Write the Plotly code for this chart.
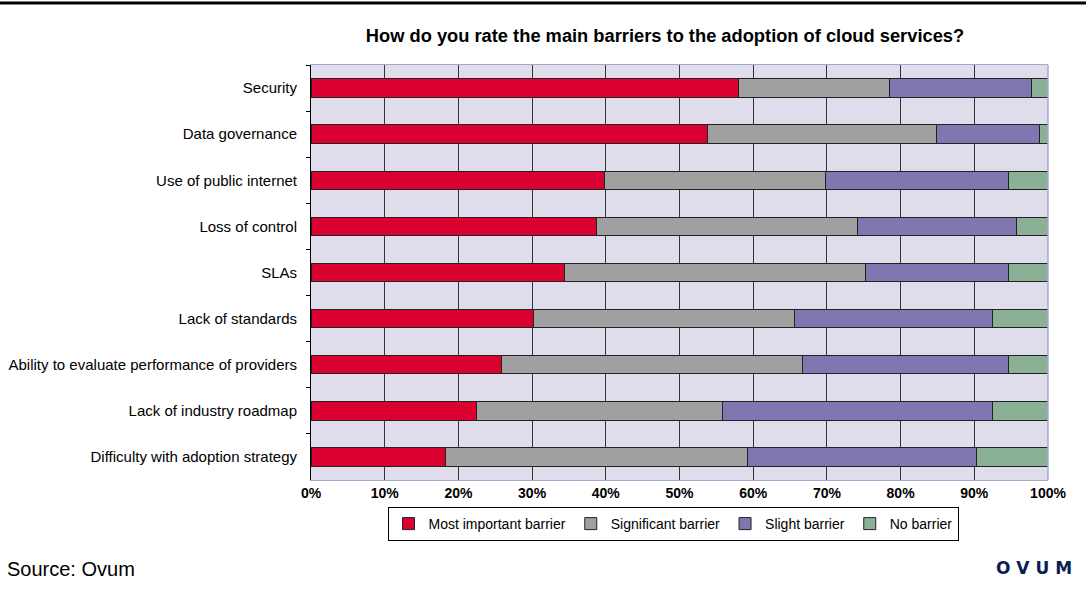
import plotly.graph_objects as go

categories = [
    "Security",
    "Data governance",
    "Use of public internet",
    "Loss of control",
    "SLAs",
    "Lack of standards",
    "Ability to evaluate performance of providers",
    "Lack of industry roadmap",
    "Difficulty with adoption strategy",
]

most_important = [58.0, 53.8, 39.8, 38.7, 34.4, 30.2, 25.9, 22.5, 18.2]
significant = [20.5, 31.1, 30.0, 35.5, 40.9, 35.4, 40.8, 33.4, 41.0]
slight = [19.3, 14.0, 24.9, 21.5, 19.4, 26.9, 28.0, 36.6, 31.1]
no_barrier = [2.2, 1.1, 5.3, 4.3, 5.3, 7.5, 5.3, 7.5, 9.7]

series_names = ["Most important barrier", "Significant barrier", "Slight barrier", "No barrier"]
series_values = [most_important, significant, slight, no_barrier]
series_colors = ["#DA0030", "#A0A0A0", "#8077B1", "#8AB095"]

x_ticks = [0, 10, 20, 30, 40, 50, 60, 70, 80, 90, 100]
x_tick_labels = [f"{v}%" for v in x_ticks]

fig = go.Figure()
for name, vals, col in zip(series_names, series_values, series_colors):
    fig.add_trace(go.Bar(
        y=categories, x=vals, name=name, orientation="h",
        marker=dict(color=col, line=dict(color="#222222", width=1)),
    ))

fig.update_layout(
    barmode="stack",
    bargap=0.6,
    width=1086, height=593,
    margin=dict(l=311, r=38, t=65, b=113),
    paper_bgcolor="white",
    plot_bgcolor="#DFDDEB",
    font=dict(family="Liberation Sans, Arial, sans-serif", color="black", size=15),
    title=dict(
        text="<b>How do you rate the main barriers to the adoption of cloud services?</b>",
        x=665 / 1086, xanchor="center", xref="container",
        y=1 - 36 / 593, yanchor="middle",
        font=dict(size=18.3, color="black"),
    ),
    legend=dict(
        orientation="h",
        x=(673 - 311) / 737, xanchor="center",
        y=-(507 - 480) / 415, yanchor="top",
        bordercolor="black", borderwidth=1,
        font=dict(size=14),
        traceorder="normal",
        itemwidth=30,
    ),
    showlegend=True,
)

fig.update_xaxes(
    range=[0, 100],
    tickvals=x_ticks, ticktext=[f"<b>{t}</b>" for t in x_tick_labels],
    tickfont=dict(size=14),
    showgrid=True, gridcolor="#333333", gridwidth=1,
    showline=True, linecolor="#A9A6CB", linewidth=1, mirror=True,
    ticks="", zeroline=False, automargin=False,
)

fig.update_yaxes(
    autorange="reversed",
    showline=True, linecolor="black", linewidth=1,
    ticks="outside", ticklen=4, tickcolor="black", tickson="boundaries",
    showgrid=False,
    ticklabelstandoff=10,
    tickfont=dict(size=15),
    automargin=False,
)

# right border of plot area
fig.add_shape(type="line", xref="paper", yref="paper", x0=1, x1=1, y0=0, y1=1,
              line=dict(color="#A9A6CB", width=1.5))

# top black rule
fig.add_shape(type="line", xref="paper", yref="paper",
              x0=-311 / 737, x1=(1086 - 311) / 737,
              y0=1 + (65 - 3) / 415, y1=1 + (65 - 3) / 415,
              line=dict(color="black", width=3))

fig.add_annotation(text="Source: Ovum", xref="paper", yref="paper",
                   x=-(311 - 5) / 737, xanchor="left",
                   y=-(569 - 480) / 415, yanchor="middle",
                   showarrow=False, font=dict(size=20, color="black"))

fig.add_annotation(text="<b>O&nbsp;V&nbsp;U&nbsp;M</b>", xref="paper", yref="paper",
                   x=(1074 - 311) / 737, xanchor="right",
                   y=-(568 - 480) / 415, yanchor="middle",
                   showarrow=False,
                   font=dict(size=17, color="#0B1D55", family="DejaVu Sans, sans-serif"))

fig.write_html("out.html", config={"displayModeBar": False},
               post_script="document.body.style.margin='0';")
